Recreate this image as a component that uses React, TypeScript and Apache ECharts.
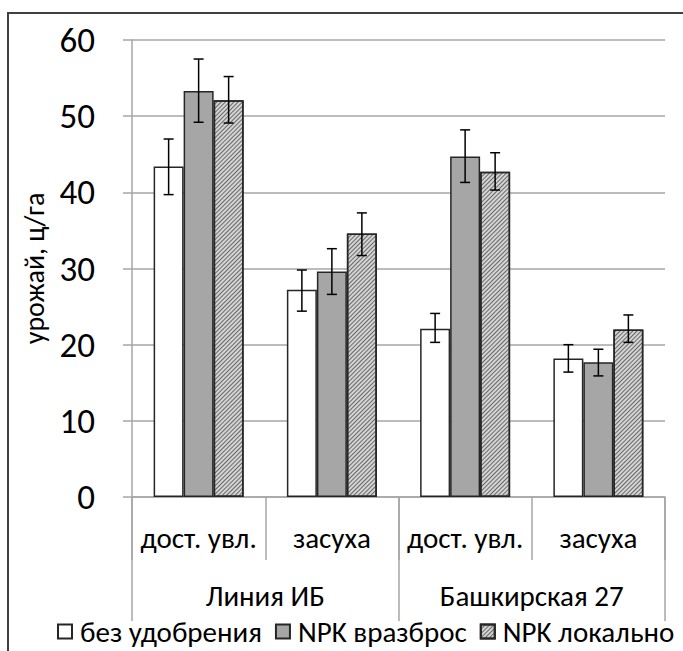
import React, { useEffect, useRef } from "react";
import * as echarts from "echarts";

const subCategories = ["дост. увл.", "засуха", "дост. увл.", "засуха"];
const groups = ["Линия ИБ", "Башкирская 27"];
const seriesNames = ["без удобрения", "NPK вразброс", "NPK локально"];
const yTicks = [0, 10, 20, 30, 40, 50, 60];

const noFert = [43.4, 27.2, 22.1, 18.2];
const npkSpread = [53.3, 29.6, 44.7, 17.7];
const npkLocal = [52.1, 34.6, 42.7, 22.0];

const noFertLow = [39.7, 24.4, 20.3, 16.4];
const noFertHigh = [47.0, 29.8, 24.1, 20.0];
const npkSpreadLow = [49.2, 26.6, 41.3, 15.9];
const npkSpreadHigh = [57.5, 32.6, 48.2, 19.4];
const npkLocalLow = [49.1, 31.7, 40.3, 20.3];
const npkLocalHigh = [55.2, 37.3, 45.2, 23.9];

const FONT = "Carlito, Calibri, 'Open Sans', 'Noto Sans', sans-serif";
const BAR_W = 30;

export default function App() {
  const ref = useRef<HTMLDivElement>(null);
  useEffect(() => {
    if (!ref.current) return;
    const chart = echarts.init(ref.current, null, { renderer: "svg" });
    const values = [noFert, npkSpread, npkLocal];
    const lows = [noFertLow, npkSpreadLow, npkLocalLow];
    const highs = [noFertHigh, npkSpreadHigh, npkLocalHigh];
    const fills = ["#ffffff", "#a6a6a6", "#d4d4d4"];

    const barSeries = seriesNames.map((name, i) => ({
      type: "bar",
      name,
      xAxisIndex: 0,
      yAxisIndex: 0,
      data: values[i],
      barWidth: BAR_W,
      barGap: "0%",
      itemStyle: {
        color: fills[i],
        borderColor: "#262626",
        borderWidth: 1.5,
        decal:
          i === 2
            ? {
                symbol: "rect",
                symbolSize: 1,
                color: "rgba(60,60,60,0.7)",
                dashArrayX: [1, 0],
                dashArrayY: [1, 1.5],
                rotation: -Math.PI / 4,
              }
            : "none",
      },
      emphasis: { disabled: true },
    }));

    const errSeries = seriesNames.map((name, i) => ({
      type: "custom",
      name: name + "_err",
      xAxisIndex: 0,
      yAxisIndex: 0,
      z: 5,
      data: lows[i].map((l, k) => [k, l, highs[i][k]]),
      renderItem: (params: any, api: any) => {
        const k = api.value(0);
        const lo = api.coord([k, api.value(1)]);
        const hi = api.coord([k, api.value(2)]);
        const x = lo[0] + (i - 1) * BAR_W;
        const style = { stroke: "#000000", lineWidth: 1.5 };
        return {
          type: "group",
          children: [
            { type: "line", shape: { x1: x, y1: lo[1], x2: x, y2: hi[1] }, style },
            { type: "line", shape: { x1: x - 5, y1: lo[1], x2: x + 5, y2: lo[1] }, style },
            { type: "line", shape: { x1: x - 5, y1: hi[1], x2: x + 5, y2: hi[1] }, style },
          ],
        };
      },
    }));

    chart.setOption({
      animation: false,
      textStyle: { fontFamily: FONT, color: "#000" },
      grid: { left: 132, right: 18, top: 40, bottom: 154, containLabel: false },
      graphic: [
        {
          type: "rect",
          z: -10,
          shape: { x: 8, y: 13, width: 800, height: 800 },
          style: { fill: "none", stroke: "#404040", lineWidth: 2 },
        },
      ],
      legend: {
        left: 52,
        top: 612,
        padding: 5,
        itemWidth: 14,
        itemHeight: 14,
        itemGap: 13,
        icon: "rect",
        data: seriesNames,
        textStyle: { fontFamily: FONT, fontSize: 29, lineHeight: 28, color: "#000", padding: [0, 0, 0, 3] },
      },
      xAxis: [
        {
          type: "category",
          data: subCategories,
          position: "bottom",
          axisLine: { show: true, lineStyle: { color: "#a6a6a6", width: 1.5 } },
          axisTick: { show: true, length: 63, interval: 0, lineStyle: { color: "#a6a6a6", width: 1.5 } },
          axisLabel: { interval: 0, margin: 26, fontSize: 29, fontFamily: FONT, color: "#000" },
        },
        {
          type: "category",
          data: groups,
          position: "bottom",
          axisLine: { show: false },
          axisTick: { show: true, length: 124, interval: 0, lineStyle: { color: "#a6a6a6", width: 1.5 } },
          axisLabel: { interval: 0, margin: 84, fontSize: 29, fontFamily: FONT, color: "#000" },
        },
      ],
      yAxis: {
        type: "value",
        min: 0,
        max: 60,
        interval: 10,
        name: "урожай, ц/га",
        nameLocation: "middle",
        nameGap: 77,
        nameRotate: 90,
        nameTextStyle: { fontSize: 28, fontFamily: FONT, color: "#000" },
        axisLine: { show: true, lineStyle: { color: "#a6a6a6", width: 1.5 } },
        axisTick: { show: true, length: 9, lineStyle: { color: "#a6a6a6", width: 1.5 } },
        splitLine: { show: true, lineStyle: { color: "#a6a6a6", width: 1.5 } },
        axisLabel: {
          margin: 37,
          fontSize: 35,
          fontFamily: FONT,
          color: "#000",
          formatter: (v: number) => (yTicks.includes(v) ? String(v) : ""),
        },
      },
      series: [...barSeries, ...errSeries],
    });
    return () => chart.dispose();
  }, []);
  return (
    <div
      ref={ref}
      style={{ position: "fixed", left: 0, top: 0, width: 683, height: 651, background: "#fff" }}
    />
  );
}
